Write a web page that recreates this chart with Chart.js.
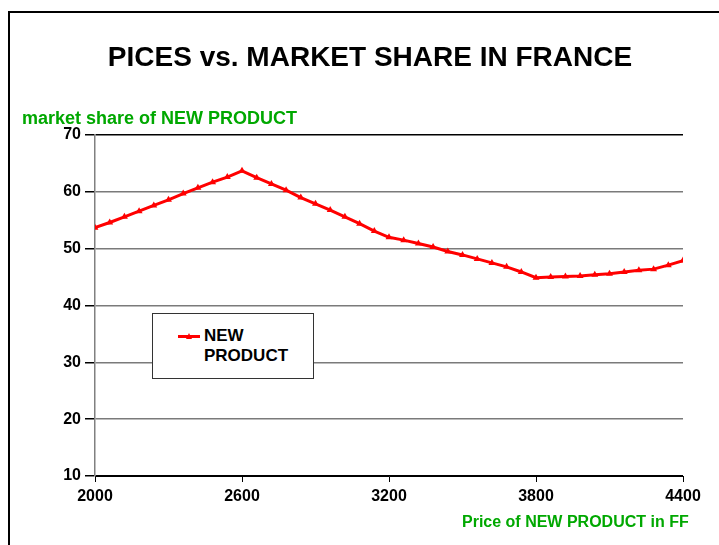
<!DOCTYPE html>
<html>
<head>
<meta charset="utf-8">
<script src="https://cdn.jsdelivr.net/npm/chart.js@4.4.0/dist/chart.umd.min.js"></script>
<style>
  html, body { margin: 0; padding: 0; width: 719px; height: 545px; overflow: hidden; background: #fff; font-family: "Liberation Sans", Arial, sans-serif; }
  #frame { position: absolute; left: 8px; top: 11px; width: 2000px; height: 2000px; border-left: 2px solid #000; border-top: 2px solid #000; }
  #wrap { position: absolute; left: 0; top: 0; width: 719px; height: 545px; }
  .txt { position: absolute; font-weight: bold; white-space: nowrap; }
  #title { left: 370px; top: 43px; font-size: 28px; line-height: 28px; transform: translateX(-50%); color: #000; }
  #ytitle { left: 22px; top: 109px; font-size: 18px; line-height: 18px; color: #00A800; }
  #xtitle { left: 462px; top: 514px; font-size: 16px; line-height: 16px; color: #00A800; }
  #legend { position: absolute; left: 152px; top: 313px; width: 160px; height: 64px; border: 1px solid #333; background: #fff; }
  #legline { position: absolute; left: 25px; top: 21px; width: 22px; height: 3px; background: #ff0000; }
  #legmark { position: absolute; left: 33px; top: 19px; width: 0; height: 0; border-left: 3px solid transparent; border-right: 3px solid transparent; border-bottom: 6px solid #ff0000; }
  #legtext { position: absolute; left: 51px; top: 12px; font-size: 17px; line-height: 20px; font-weight: bold; color: #000; }
</style>
</head>
<body>
<div id="frame"></div>
<div id="wrap"><canvas id="c" width="719" height="545"></canvas></div>
<div class="txt" id="title">PICES vs. MARKET SHARE IN FRANCE</div>
<div class="txt" id="ytitle">market share of NEW PRODUCT</div>
<div class="txt" id="xtitle">Price of NEW PRODUCT in FF</div>
<div id="legend"><div id="legline"></div><div id="legmark"></div><div id="legtext">NEW<br>PRODUCT</div></div>
<script>
const seriesName = "NEW PRODUCT";
const prices = [2000, 2060, 2120, 2180, 2240, 2300, 2360, 2420, 2480, 2540, 2600,
                2660, 2720, 2780, 2840, 2900, 2960, 3020, 3080, 3140, 3200,
                3260, 3320, 3380, 3440, 3500, 3560, 3620, 3680, 3740, 3800,
                3860, 3920, 3980, 4040, 4100, 4160, 4220, 4280, 4340, 4400];
const marketShare = [53.7, 54.6, 55.6, 56.6, 57.6, 58.6, 59.7, 60.7, 61.7, 62.6, 63.7,
                     62.5, 61.4, 60.3, 59.0, 57.9, 56.8, 55.6, 54.4, 53.1, 52.0,
                     51.5, 50.9, 50.3, 49.5, 48.9, 48.2, 47.5, 46.8, 45.9, 44.9,
                     45.0, 45.1, 45.2, 45.4, 45.6, 45.9, 46.2, 46.4, 47.1, 47.9];
const xTicks = [2000, 2600, 3200, 3800, 4400];
const yTicks = [10, 20, 30, 40, 50, 60, 70];

const points = prices.map((p, i) => ({ x: p, y: marketShare[i] }));

new Chart(document.getElementById('c'), {
  type: 'line',
  data: {
    datasets: [{
      label: seriesName,
      data: points,
      borderColor: '#ff0000',
      backgroundColor: '#ff0000',
      borderWidth: 3,
      pointStyle: 'triangle',
      pointRadius: 4,
      pointBorderWidth: 0,
      tension: 0
    }]
  },
  options: {
    responsive: false,
    animation: false,
    layout: { padding: { left: 0, top: 135, right: 36, bottom: 0 } },
    plugins: { legend: { display: false }, title: { display: false }, tooltip: { enabled: false } },
    scales: {
      x: {
        type: 'linear',
        min: xTicks[0], max: xTicks[xTicks.length - 1],
        afterBuildTicks: s => { s.ticks = xTicks.map(v => ({ value: v })); },
        afterFit: s => { s.height = 69; },
        grid: { drawOnChartArea: false, drawTicks: true, tickLength: 6, tickColor: '#000', color: '#000' },
        border: { color: '#000', width: 1 },
        ticks: { color: '#000', padding: 5, callback: v => String(v), font: { family: 'Liberation Sans', size: 16, weight: 'bold' } }
      },
      y: {
        min: yTicks[0], max: yTicks[yTicks.length - 1],
        afterBuildTicks: s => { s.ticks = yTicks.map(v => ({ value: v })); },
        afterFit: s => { s.width = 95; },
        grid: {
          color: ctx => (ctx.tick && (ctx.tick.value === 70 || ctx.tick.value === 10)) ? '#000' : '#7a7a7a',
          lineWidth: 1.5,
          tickLength: 10,
          tickColor: '#000'
        },
        border: { color: '#808080', width: 1.5 },
        ticks: { color: '#000', padding: 4, callback: v => String(v), font: { family: 'Liberation Sans', size: 16, weight: 'bold' } }
      }
    }
  }
});
</script>
</body>
</html>
